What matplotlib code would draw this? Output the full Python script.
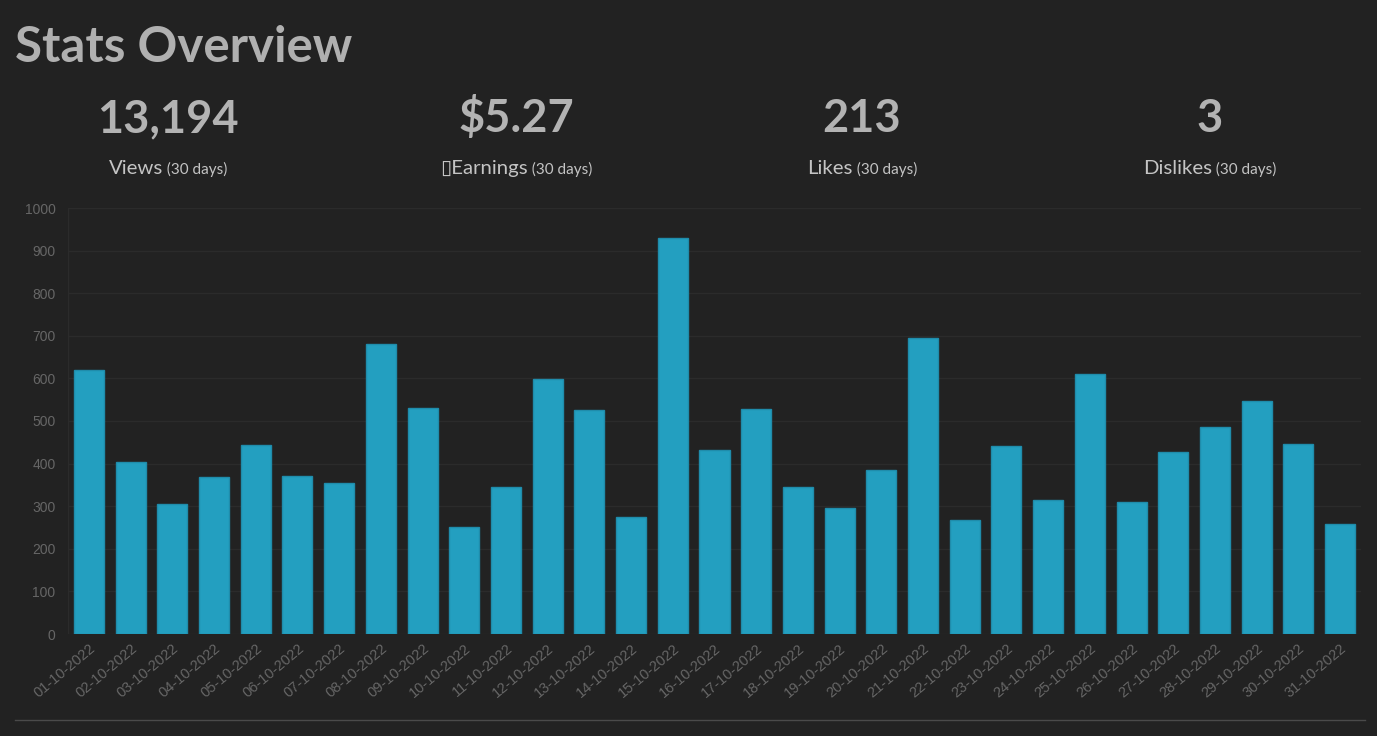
import numpy as np
import matplotlib
matplotlib.use('Agg')
import matplotlib.pyplot as plt
from matplotlib.lines import Line2D

plt.rcParams['font.family'] = ['Liberation Sans', 'DejaVu Sans']

# daily views, October 2022
dates = ['%02d-10-2022' % d for d in range(1, 32)]
views = [619, 404, 304, 369, 444, 370, 355, 680, 530, 252,
         346, 598, 525, 274, 929, 431, 527, 346, 296, 386,
         696, 268, 441, 315, 610, 309, 427, 487, 547, 447, 259]

stat_values = ['13,194', '$5.27', '213', '3']
stat_names = ['Views', '\u25af' + 'Earnings', 'Likes', 'Dislikes']
stat_period = '(30 days)'

W, H = 1377, 736
bg = '#222222'
bar_col = '#239fc0'

fig = plt.figure(figsize=(W / 100, H / 100), dpi=100, facecolor=bg)

# header
fig.text(15 / W, 1 - 62 / H, 'Stats Overview', fontsize=35.5, family='Lato',
         weight='bold', color='#b0b0b0', va='baseline', ha='left')

centers = [168, 516, 862, 1210]
renderer = fig.canvas.get_renderer()
for cx, val, name in zip(centers, stat_values, stat_names):
    fig.text(cx / W, 1 - 132 / H, val, fontsize=32.5, family='Lato', weight='bold',
             color='#b3b3b3', ha='center', va='baseline')
    t1 = fig.text(0, 1 - 174 / H, name, fontsize=14.7, family=['Lato', 'DejaVu Sans'],
                  color='#c4c4c4', ha='left', va='baseline')
    t2 = fig.text(0, 1 - 174 / H, ' ' + stat_period, fontsize=11, family='Lato',
                  color='#c4c4c4', ha='left', va='baseline')
    w1 = t1.get_window_extent(renderer).width
    w2 = t2.get_window_extent(renderer).width
    x0 = cx - (w1 + w2) / 2
    t1.set_x(x0 / W)
    t2.set_x((x0 + w1) / W)

# chart
ax = fig.add_axes([68 / W, (H - 634) / H, (1361 - 68) / W, (634 - 208) / H])
ax.set_facecolor(bg)
x = np.arange(len(dates))
ax.bar(x, views, width=0.72, color=bar_col, edgecolor='#1f8cab', linewidth=1, zorder=3)
ax.set_xlim(-0.5, len(dates) - 0.5)
ax.set_ylim(0, 1000)
ax.set_yticks(np.arange(0, 1001, 100))
ax.set_xticks(x)
ax.set_xticklabels(dates, rotation=40, ha='right', rotation_mode='anchor',
                   fontsize=10.5, color='#666666')
ax.tick_params(axis='y', length=0, pad=9, labelsize=10, labelcolor='#666666')
ax.tick_params(axis='x', length=0, pad=5)
ax.grid(axis='y', color='#2b2b2b', linewidth=1, zorder=0)
ax.axvline(-0.5, color='#2b2b2b', linewidth=1, zorder=0)
for s in ax.spines.values():
    s.set_visible(False)

# bottom rule
fig.add_artist(Line2D([15 / W, 1365 / W], [1 - 720 / H, 1 - 720 / H],
                      color='#4a4a4a', linewidth=1))

fig.savefig('out.png', dpi=100, facecolor=bg)
